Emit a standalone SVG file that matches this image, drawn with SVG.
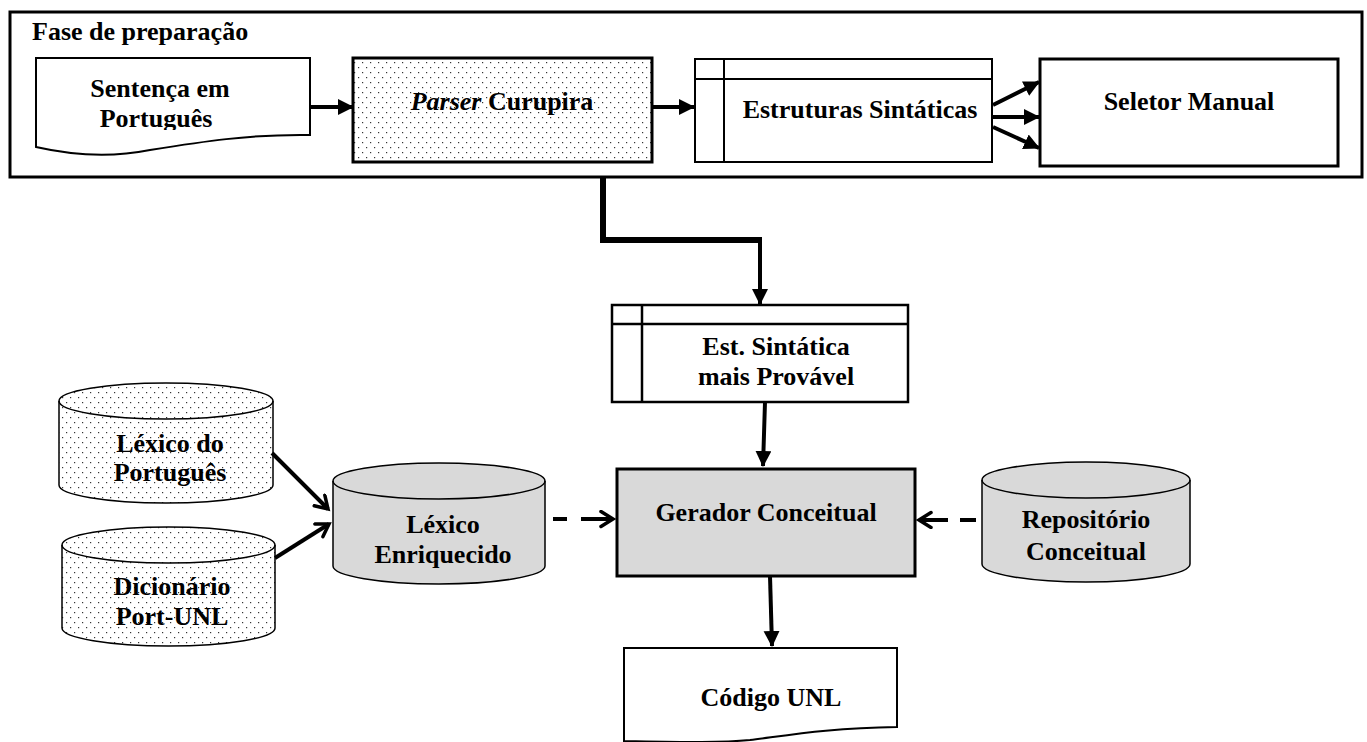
<svg xmlns="http://www.w3.org/2000/svg" width="1367" height="742" viewBox="0 0 1367 742">
<defs>
<pattern id="dots" width="8" height="10" patternUnits="userSpaceOnUse">
<rect width="8" height="10" fill="#ffffff"/>
<rect x="2" y="2" width="1.2" height="1.2" fill="#333"/>
<rect x="6" y="7" width="1.2" height="1.2" fill="#333"/>
</pattern>
<marker id="ah" markerUnits="userSpaceOnUse" markerWidth="18" markerHeight="18" refX="15" refY="8" orient="auto">
<path d="M0,0 L16,8 L0,16 Z" fill="#000"/>
</marker>
<marker id="av" markerUnits="userSpaceOnUse" markerWidth="20" markerHeight="20" refX="14" refY="9" orient="auto">
<path d="M2,1.5 L14,9 L2,16.5" fill="none" stroke="#000" stroke-width="3.5" stroke-linecap="round" stroke-linejoin="miter"/>
</marker>
<clipPath id="clipSent"><rect x="36" y="58" width="274" height="72"/></clipPath>
</defs>
<style>
.t{font-family:"Liberation Serif","Times New Roman",serif;font-weight:bold;font-size:26px;fill:#000}
.c{text-anchor:middle}
.ln{fill:none;stroke:#000;stroke-width:4}
.cyl{stroke:#000;stroke-width:1.5}
.gray{fill:#d9d9d9}
</style>

<g id="fase">
<rect x="10" y="12" width="1352" height="165" fill="#fff" stroke="#000" stroke-width="3"/>
<text class="t" x="32" y="40">Fase de preparação</text>
</g>

<g id="sentenca">
<path d="M36,58 H310 V135 C250,134 200,142 150,150 C120,156 80,157 36,147 Z" fill="#fff" stroke="#000" stroke-width="2"/>
<g clip-path="url(#clipSent)">
<text class="t c" x="160" y="97">Sentença em</text>
<text class="t c" x="156" y="127">Português</text>
</g>
</g>

<g id="parser">
<rect x="353" y="58" width="299" height="104" fill="url(#dots)" stroke="#000" stroke-width="3"/>
<text class="t c" x="502" y="110"><tspan font-style="italic">Parser</tspan> Curupira</text>
</g>

<g id="estruturas">
<rect x="695" y="59" width="297" height="103" fill="#fff" stroke="#000" stroke-width="2"/>
<line x1="724" y1="59" x2="724" y2="162" stroke="#000" stroke-width="2"/>
<line x1="695" y1="79" x2="992" y2="79" stroke="#000" stroke-width="2"/>
<text class="t c" x="860" y="118">Estruturas Sintáticas</text>
</g>

<g id="seletor">
<rect x="1040" y="59" width="298" height="107" fill="#fff" stroke="#000" stroke-width="3"/>
<text class="t c" x="1189" y="110">Seletor Manual</text>
</g>

<g id="estmais">
<rect x="612" y="305" width="296" height="97" fill="#fff" stroke="#000" stroke-width="2.5"/>
<line x1="642" y1="305" x2="642" y2="402" stroke="#000" stroke-width="2.5"/>
<line x1="612" y1="324" x2="908" y2="324" stroke="#000" stroke-width="2.5"/>
<text class="t c" x="776" y="355">Est. Sintática</text>
<text class="t c" x="776" y="385">mais Provável</text>
</g>

<g id="gerador">
<rect x="617" y="469" width="298" height="107" class="gray" stroke="#000" stroke-width="3"/>
<text class="t c" x="766" y="521">Gerador Conceitual</text>
</g>

<g id="codigo">
<path d="M624,648 H897 V727 C830,728 790,735 750,740 C720,743 680,742 624,741 Z" fill="#fff" stroke="#000" stroke-width="2"/>
<text class="t c" x="771" y="706">Código UNL</text>
</g>

<g id="lexport">
<path d="M59,401 V485 A107,18 0 0 0 273,485 V401 A107,18 0 0 0 59,401 Z" fill="url(#dots)" class="cyl"/>
<path d="M59,401 A107,18 0 0 0 273,401" fill="none" class="cyl"/>
<text class="t c" x="170" y="452">Léxico do</text>
<text class="t c" x="170" y="481">Português</text>
</g>

<g id="dicionario">
<path d="M62,545 V628 A106.5,18 0 0 0 275,628 V545 A106.5,18 0 0 0 62,545 Z" fill="url(#dots)" class="cyl"/>
<path d="M62,545 A106.5,18 0 0 0 275,545" fill="none" class="cyl"/>
<text class="t c" x="172" y="595">Dicionário</text>
<text class="t c" x="172" y="625">Port-UNL</text>
</g>

<g id="lexenr">
<path d="M333,481 V566 A106,18 0 0 0 545,566 V481 A106,18 0 0 0 333,481 Z" class="gray cyl"/>
<path d="M333,481 A106,18 0 0 0 545,481" fill="none" class="cyl"/>
<text class="t c" x="443" y="533">Léxico</text>
<text class="t c" x="443" y="563">Enriquecido</text>
</g>

<g id="repositorio">
<path d="M982,480 V564 A104,18 0 0 0 1190,564 V480 A104,18 0 0 0 982,480 Z" class="gray cyl"/>
<path d="M982,480 A104,18 0 0 0 1190,480" fill="none" class="cyl"/>
<text class="t c" x="1086" y="528">Repositório</text>
<text class="t c" x="1086" y="560">Conceitual</text>
</g>

<g id="connectors">
<line class="ln" x1="310" y1="107" x2="353" y2="107" marker-end="url(#ah)"/>
<line class="ln" x1="652" y1="107" x2="694" y2="107" marker-end="url(#ah)"/>
<line class="ln" x1="993" y1="105" x2="1039" y2="82" marker-end="url(#ah)"/>
<line class="ln" x1="993" y1="117" x2="1039" y2="117" marker-end="url(#ah)"/>
<line class="ln" x1="993" y1="127" x2="1039" y2="148" marker-end="url(#ah)"/>
<path d="M603,177 V240 H760" fill="none" stroke="#000" stroke-width="6" stroke-linejoin="miter"/>
<line class="ln" x1="760" y1="237" x2="760" y2="304" marker-end="url(#ah)"/>
<line class="ln" x1="765" y1="402" x2="763" y2="466" marker-end="url(#ah)"/>
<line class="ln" x1="770" y1="576" x2="772" y2="646" marker-end="url(#ah)"/>
<line class="ln" x1="272" y1="453" x2="328" y2="509" marker-end="url(#av)"/>
<line class="ln" x1="275" y1="558" x2="329" y2="524" marker-end="url(#av)"/>
<line class="ln" x1="553" y1="519" x2="613" y2="519" stroke-dasharray="14 14 40" marker-end="url(#av)"/>
<line class="ln" x1="976" y1="520" x2="919" y2="520" stroke-dasharray="16 12 40" marker-end="url(#av)"/>
</g>
</svg>
